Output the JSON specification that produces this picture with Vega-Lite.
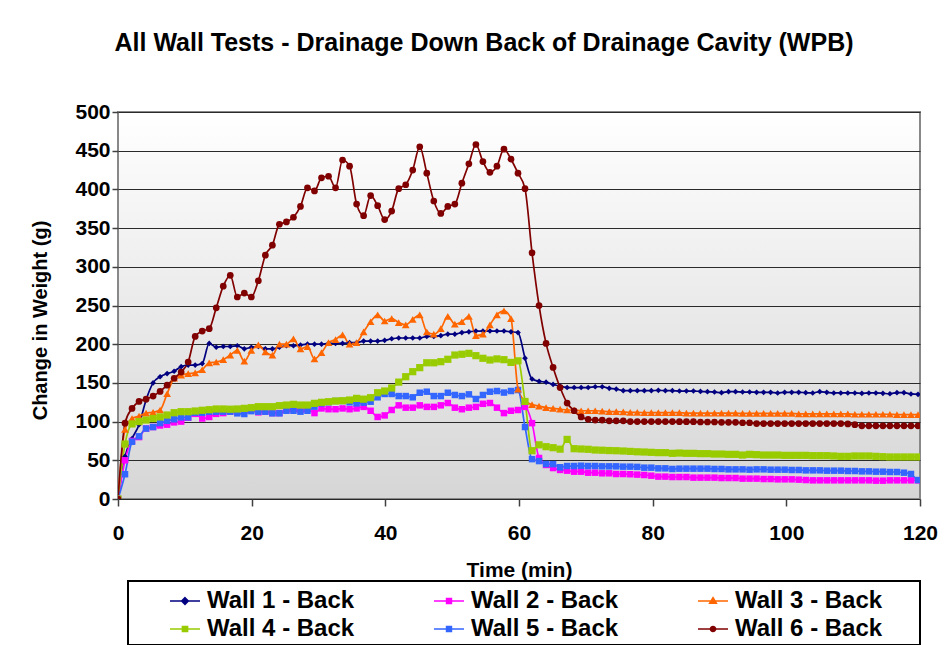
{
  "$schema": "https://vega.github.io/schema/vega-lite/v6.json",
  "width": 802,
  "height": 387,
  "autosize": {"type": "none"},
  "padding": {"left": 118, "top": 112, "right": 24, "bottom": 146},
  "background": "white",
  "title": {"text": "All Wall Tests - Drainage Down Back of Drainage Cavity (WPB)", "fontSize": 25, "fontWeight": "bold", "font": "Liberation Sans", "color": "black", "anchor": "middle", "dx": -35, "offset": 45},
  "data": {"values": [
    {"t":0,"Wall 1 - Back":0,"Wall 2 - Back":0,"Wall 3 - Back":0,"Wall 4 - Back":0,"Wall 5 - Back":0,"Wall 6 - Back":0},
    {"t":1.05,"Wall 1 - Back":55,"Wall 2 - Back":50,"Wall 3 - Back":90,"Wall 4 - Back":71,"Wall 5 - Back":32,"Wall 6 - Back":98},
    {"t":2.1,"Wall 1 - Back":78,"Wall 2 - Back":75,"Wall 3 - Back":104,"Wall 4 - Back":97,"Wall 5 - Back":74,"Wall 6 - Back":117},
    {"t":3.15,"Wall 1 - Back":96,"Wall 2 - Back":80,"Wall 3 - Back":107,"Wall 4 - Back":100,"Wall 5 - Back":81,"Wall 6 - Back":126},
    {"t":4.2,"Wall 1 - Back":128,"Wall 2 - Back":91,"Wall 3 - Back":111,"Wall 4 - Back":102,"Wall 5 - Back":91,"Wall 6 - Back":129},
    {"t":5.25,"Wall 1 - Back":150,"Wall 2 - Back":93,"Wall 3 - Back":112,"Wall 4 - Back":104,"Wall 5 - Back":93,"Wall 6 - Back":133},
    {"t":6.3,"Wall 1 - Back":158,"Wall 2 - Back":95,"Wall 3 - Back":115,"Wall 4 - Back":106,"Wall 5 - Back":98,"Wall 6 - Back":139},
    {"t":7.35,"Wall 1 - Back":162,"Wall 2 - Back":96,"Wall 3 - Back":136,"Wall 4 - Back":108.5,"Wall 5 - Back":101,"Wall 6 - Back":147},
    {"t":8.4,"Wall 1 - Back":165,"Wall 2 - Back":99,"Wall 3 - Back":156,"Wall 4 - Back":111.5,"Wall 5 - Back":103,"Wall 6 - Back":156},
    {"t":9.45,"Wall 1 - Back":171,"Wall 2 - Back":100,"Wall 3 - Back":160,"Wall 4 - Back":112.8,"Wall 5 - Back":105.5,"Wall 6 - Back":164},
    {"t":10.5,"Wall 1 - Back":173,"Wall 2 - Back":105,"Wall 3 - Back":162,"Wall 4 - Back":112.8,"Wall 5 - Back":105.5,"Wall 6 - Back":177},
    {"t":11.55,"Wall 1 - Back":173,"Wall 2 - Back":110,"Wall 3 - Back":163,"Wall 4 - Back":113.7,"Wall 5 - Back":111.5,"Wall 6 - Back":210},
    {"t":12.6,"Wall 1 - Back":175,"Wall 2 - Back":104,"Wall 3 - Back":167,"Wall 4 - Back":114.6,"Wall 5 - Back":111.5,"Wall 6 - Back":217},
    {"t":13.65,"Wall 1 - Back":201,"Wall 2 - Back":106,"Wall 3 - Back":176,"Wall 4 - Back":115.4,"Wall 5 - Back":112.8,"Wall 6 - Back":220},
    {"t":14.7,"Wall 1 - Back":196,"Wall 2 - Back":110,"Wall 3 - Back":177,"Wall 4 - Back":116.3,"Wall 5 - Back":112.8,"Wall 6 - Back":247},
    {"t":15.75,"Wall 1 - Back":197,"Wall 2 - Back":111,"Wall 3 - Back":180,"Wall 4 - Back":116.3,"Wall 5 - Back":112.8,"Wall 6 - Back":275},
    {"t":16.8,"Wall 1 - Back":197,"Wall 2 - Back":113,"Wall 3 - Back":186,"Wall 4 - Back":116,"Wall 5 - Back":112.8,"Wall 6 - Back":289},
    {"t":17.85,"Wall 1 - Back":198,"Wall 2 - Back":116,"Wall 3 - Back":192,"Wall 4 - Back":116.3,"Wall 5 - Back":110.7,"Wall 6 - Back":261},
    {"t":18.9,"Wall 1 - Back":194,"Wall 2 - Back":115,"Wall 3 - Back":178,"Wall 4 - Back":117.1,"Wall 5 - Back":109.8,"Wall 6 - Back":266},
    {"t":19.95,"Wall 1 - Back":196,"Wall 2 - Back":116,"Wall 3 - Back":192,"Wall 4 - Back":118,"Wall 5 - Back":113.5,"Wall 6 - Back":261},
    {"t":21,"Wall 1 - Back":197,"Wall 2 - Back":112,"Wall 3 - Back":199,"Wall 4 - Back":119.3,"Wall 5 - Back":112.8,"Wall 6 - Back":282},
    {"t":22.05,"Wall 1 - Back":194,"Wall 2 - Back":113,"Wall 3 - Back":190,"Wall 4 - Back":119.3,"Wall 5 - Back":112.8,"Wall 6 - Back":315},
    {"t":23.1,"Wall 1 - Back":194,"Wall 2 - Back":111,"Wall 3 - Back":186,"Wall 4 - Back":119.3,"Wall 5 - Back":110.7,"Wall 6 - Back":328},
    {"t":24.15,"Wall 1 - Back":196,"Wall 2 - Back":111,"Wall 3 - Back":200,"Wall 4 - Back":120.6,"Wall 5 - Back":110.7,"Wall 6 - Back":355},
    {"t":25.2,"Wall 1 - Back":198,"Wall 2 - Back":115,"Wall 3 - Back":200,"Wall 4 - Back":121.4,"Wall 5 - Back":114,"Wall 6 - Back":358},
    {"t":26.25,"Wall 1 - Back":198,"Wall 2 - Back":116,"Wall 3 - Back":207,"Wall 4 - Back":122.3,"Wall 5 - Back":114,"Wall 6 - Back":364},
    {"t":27.3,"Wall 1 - Back":199,"Wall 2 - Back":115,"Wall 3 - Back":194,"Wall 4 - Back":121.4,"Wall 5 - Back":112.8,"Wall 6 - Back":378},
    {"t":28.35,"Wall 1 - Back":200,"Wall 2 - Back":116,"Wall 3 - Back":197,"Wall 4 - Back":121.4,"Wall 5 - Back":114,"Wall 6 - Back":402},
    {"t":29.4,"Wall 1 - Back":200,"Wall 2 - Back":111,"Wall 3 - Back":181,"Wall 4 - Back":123.6,"Wall 5 - Back":119.3,"Wall 6 - Back":398},
    {"t":30.45,"Wall 1 - Back":200,"Wall 2 - Back":117,"Wall 3 - Back":189,"Wall 4 - Back":124.9,"Wall 5 - Back":123.6,"Wall 6 - Back":415},
    {"t":31.5,"Wall 1 - Back":201,"Wall 2 - Back":116,"Wall 3 - Back":202,"Wall 4 - Back":125.7,"Wall 5 - Back":124.9,"Wall 6 - Back":417},
    {"t":32.55,"Wall 1 - Back":201,"Wall 2 - Back":116,"Wall 3 - Back":206,"Wall 4 - Back":126.6,"Wall 5 - Back":126.6,"Wall 6 - Back":402},
    {"t":33.6,"Wall 1 - Back":201,"Wall 2 - Back":117,"Wall 3 - Back":212,"Wall 4 - Back":127,"Wall 5 - Back":126.6,"Wall 6 - Back":438},
    {"t":34.65,"Wall 1 - Back":202,"Wall 2 - Back":116,"Wall 3 - Back":200,"Wall 4 - Back":127.9,"Wall 5 - Back":124.9,"Wall 6 - Back":430},
    {"t":35.7,"Wall 1 - Back":202,"Wall 2 - Back":117,"Wall 3 - Back":202,"Wall 4 - Back":130,"Wall 5 - Back":123.6,"Wall 6 - Back":381},
    {"t":36.75,"Wall 1 - Back":204,"Wall 2 - Back":119,"Wall 3 - Back":216,"Wall 4 - Back":129,"Wall 5 - Back":124.5,"Wall 6 - Back":366},
    {"t":37.8,"Wall 1 - Back":204,"Wall 2 - Back":114,"Wall 3 - Back":229,"Wall 4 - Back":130.9,"Wall 5 - Back":125.7,"Wall 6 - Back":392},
    {"t":38.85,"Wall 1 - Back":204,"Wall 2 - Back":106,"Wall 3 - Back":238,"Wall 4 - Back":137.3,"Wall 5 - Back":131.4,"Wall 6 - Back":379},
    {"t":39.9,"Wall 1 - Back":205,"Wall 2 - Back":108,"Wall 3 - Back":230,"Wall 4 - Back":139.5,"Wall 5 - Back":135.7,"Wall 6 - Back":361},
    {"t":40.95,"Wall 1 - Back":207,"Wall 2 - Back":115,"Wall 3 - Back":233,"Wall 4 - Back":143.4,"Wall 5 - Back":135.7,"Wall 6 - Back":372},
    {"t":42,"Wall 1 - Back":208,"Wall 2 - Back":121,"Wall 3 - Back":228,"Wall 4 - Back":151,"Wall 5 - Back":133,"Wall 6 - Back":401},
    {"t":43.05,"Wall 1 - Back":208,"Wall 2 - Back":118,"Wall 3 - Back":225,"Wall 4 - Back":158,"Wall 5 - Back":133,"Wall 6 - Back":406},
    {"t":44.1,"Wall 1 - Back":208,"Wall 2 - Back":118,"Wall 3 - Back":232,"Wall 4 - Back":164.5,"Wall 5 - Back":131.4,"Wall 6 - Back":425},
    {"t":45.15,"Wall 1 - Back":208,"Wall 2 - Back":121,"Wall 3 - Back":238,"Wall 4 - Back":169.7,"Wall 5 - Back":137.3,"Wall 6 - Back":455},
    {"t":46.2,"Wall 1 - Back":210,"Wall 2 - Back":119,"Wall 3 - Back":216,"Wall 4 - Back":176,"Wall 5 - Back":138.6,"Wall 6 - Back":421},
    {"t":47.25,"Wall 1 - Back":210,"Wall 2 - Back":119,"Wall 3 - Back":213,"Wall 4 - Back":176,"Wall 5 - Back":133,"Wall 6 - Back":385},
    {"t":48.3,"Wall 1 - Back":211,"Wall 2 - Back":121,"Wall 3 - Back":220,"Wall 4 - Back":177.4,"Wall 5 - Back":133,"Wall 6 - Back":369},
    {"t":49.35,"Wall 1 - Back":213,"Wall 2 - Back":124,"Wall 3 - Back":236,"Wall 4 - Back":180.5,"Wall 5 - Back":137.3,"Wall 6 - Back":378},
    {"t":50.4,"Wall 1 - Back":213,"Wall 2 - Back":118,"Wall 3 - Back":226,"Wall 4 - Back":186,"Wall 5 - Back":134.4,"Wall 6 - Back":381},
    {"t":51.45,"Wall 1 - Back":215,"Wall 2 - Back":116,"Wall 3 - Back":229,"Wall 4 - Back":187,"Wall 5 - Back":133,"Wall 6 - Back":408},
    {"t":52.5,"Wall 1 - Back":216,"Wall 2 - Back":118,"Wall 3 - Back":236,"Wall 4 - Back":188.2,"Wall 5 - Back":135.2,"Wall 6 - Back":433},
    {"t":53.55,"Wall 1 - Back":217,"Wall 2 - Back":119,"Wall 3 - Back":211,"Wall 4 - Back":185.2,"Wall 5 - Back":129.2,"Wall 6 - Back":458},
    {"t":54.6,"Wall 1 - Back":217,"Wall 2 - Back":123,"Wall 3 - Back":213,"Wall 4 - Back":181.8,"Wall 5 - Back":134.4,"Wall 6 - Back":436},
    {"t":55.65,"Wall 1 - Back":217,"Wall 2 - Back":124,"Wall 3 - Back":225,"Wall 4 - Back":179.6,"Wall 5 - Back":138.6,"Wall 6 - Back":422},
    {"t":56.7,"Wall 1 - Back":217,"Wall 2 - Back":118,"Wall 3 - Back":238,"Wall 4 - Back":181,"Wall 5 - Back":139.5,"Wall 6 - Back":430},
    {"t":57.75,"Wall 1 - Back":217,"Wall 2 - Back":111,"Wall 3 - Back":243,"Wall 4 - Back":180,"Wall 5 - Back":137.5,"Wall 6 - Back":452},
    {"t":58.8,"Wall 1 - Back":216,"Wall 2 - Back":114,"Wall 3 - Back":233,"Wall 4 - Back":176.5,"Wall 5 - Back":139.5,"Wall 6 - Back":439},
    {"t":59.85,"Wall 1 - Back":215,"Wall 2 - Back":115,"Wall 3 - Back":142,"Wall 4 - Back":178.5,"Wall 5 - Back":140.8,"Wall 6 - Back":421},
    {"t":60.9,"Wall 1 - Back":182,"Wall 2 - Back":119,"Wall 3 - Back":126,"Wall 4 - Back":126,"Wall 5 - Back":93,"Wall 6 - Back":401},
    {"t":61.95,"Wall 1 - Back":155,"Wall 2 - Back":98,"Wall 3 - Back":122,"Wall 4 - Back":62.4,"Wall 5 - Back":51.5,"Wall 6 - Back":318},
    {"t":63,"Wall 1 - Back":152,"Wall 2 - Back":53,"Wall 3 - Back":120,"Wall 4 - Back":70,"Wall 5 - Back":49,"Wall 6 - Back":250},
    {"t":64.05,"Wall 1 - Back":151,"Wall 2 - Back":44,"Wall 3 - Back":118,"Wall 4 - Back":67.6,"Wall 5 - Back":45.2,"Wall 6 - Back":201},
    {"t":65.1,"Wall 1 - Back":148,"Wall 2 - Back":40,"Wall 3 - Back":117,"Wall 4 - Back":66.3,"Wall 5 - Back":45,"Wall 6 - Back":170},
    {"t":66.15,"Wall 1 - Back":146,"Wall 2 - Back":37.5,"Wall 3 - Back":116,"Wall 4 - Back":64.4,"Wall 5 - Back":41,"Wall 6 - Back":144},
    {"t":67.2,"Wall 1 - Back":144,"Wall 2 - Back":36.6,"Wall 3 - Back":115,"Wall 4 - Back":77,"Wall 5 - Back":42.6,"Wall 6 - Back":124},
    {"t":68.25,"Wall 1 - Back":144,"Wall 2 - Back":35.3,"Wall 3 - Back":115,"Wall 4 - Back":65,"Wall 5 - Back":42.6,"Wall 6 - Back":114},
    {"t":69.3,"Wall 1 - Back":144,"Wall 2 - Back":35.3,"Wall 3 - Back":114,"Wall 4 - Back":64.6,"Wall 5 - Back":43,"Wall 6 - Back":106},
    {"t":70.35,"Wall 1 - Back":144,"Wall 2 - Back":34,"Wall 3 - Back":114,"Wall 4 - Back":64.2,"Wall 5 - Back":42.6,"Wall 6 - Back":103},
    {"t":71.4,"Wall 1 - Back":145,"Wall 2 - Back":34,"Wall 3 - Back":114,"Wall 4 - Back":63.3,"Wall 5 - Back":42.6,"Wall 6 - Back":102},
    {"t":72.45,"Wall 1 - Back":145,"Wall 2 - Back":33.2,"Wall 3 - Back":113.5,"Wall 4 - Back":63,"Wall 5 - Back":42.2,"Wall 6 - Back":102},
    {"t":73.5,"Wall 1 - Back":143,"Wall 2 - Back":33.2,"Wall 3 - Back":113,"Wall 4 - Back":62.6,"Wall 5 - Back":42.2,"Wall 6 - Back":101},
    {"t":74.55,"Wall 1 - Back":142,"Wall 2 - Back":32.3,"Wall 3 - Back":113,"Wall 4 - Back":62.4,"Wall 5 - Back":42.2,"Wall 6 - Back":101},
    {"t":75.6,"Wall 1 - Back":140,"Wall 2 - Back":32.3,"Wall 3 - Back":112.5,"Wall 4 - Back":62,"Wall 5 - Back":41.8,"Wall 6 - Back":101},
    {"t":76.65,"Wall 1 - Back":140,"Wall 2 - Back":32,"Wall 3 - Back":112,"Wall 4 - Back":61.5,"Wall 5 - Back":41.8,"Wall 6 - Back":100},
    {"t":77.7,"Wall 1 - Back":140,"Wall 2 - Back":31.5,"Wall 3 - Back":112,"Wall 4 - Back":61,"Wall 5 - Back":41.5,"Wall 6 - Back":100},
    {"t":78.75,"Wall 1 - Back":140,"Wall 2 - Back":31,"Wall 3 - Back":111.5,"Wall 4 - Back":60.7,"Wall 5 - Back":40.5,"Wall 6 - Back":100},
    {"t":79.8,"Wall 1 - Back":140,"Wall 2 - Back":30.1,"Wall 3 - Back":111.5,"Wall 4 - Back":60.3,"Wall 5 - Back":40.5,"Wall 6 - Back":100},
    {"t":80.85,"Wall 1 - Back":140.4,"Wall 2 - Back":28.9,"Wall 3 - Back":111.5,"Wall 4 - Back":59.9,"Wall 5 - Back":39.6,"Wall 6 - Back":100},
    {"t":81.9,"Wall 1 - Back":140,"Wall 2 - Back":28.9,"Wall 3 - Back":111.5,"Wall 4 - Back":59.9,"Wall 5 - Back":39.6,"Wall 6 - Back":100},
    {"t":82.95,"Wall 1 - Back":140,"Wall 2 - Back":28.4,"Wall 3 - Back":111.5,"Wall 4 - Back":59,"Wall 5 - Back":38.8,"Wall 6 - Back":100},
    {"t":84,"Wall 1 - Back":139.5,"Wall 2 - Back":28.4,"Wall 3 - Back":111.5,"Wall 4 - Back":59.4,"Wall 5 - Back":39.2,"Wall 6 - Back":99.9},
    {"t":85.05,"Wall 1 - Back":139.5,"Wall 2 - Back":28.4,"Wall 3 - Back":111,"Wall 4 - Back":59,"Wall 5 - Back":39.2,"Wall 6 - Back":99.9},
    {"t":86.1,"Wall 1 - Back":139.5,"Wall 2 - Back":27.6,"Wall 3 - Back":111,"Wall 4 - Back":59,"Wall 5 - Back":39.2,"Wall 6 - Back":99.9},
    {"t":87.15,"Wall 1 - Back":139,"Wall 2 - Back":27.6,"Wall 3 - Back":111,"Wall 4 - Back":58.6,"Wall 5 - Back":39.2,"Wall 6 - Back":99.5},
    {"t":88.2,"Wall 1 - Back":138.7,"Wall 2 - Back":27.6,"Wall 3 - Back":111,"Wall 4 - Back":58.6,"Wall 5 - Back":39.2,"Wall 6 - Back":99.5},
    {"t":89.25,"Wall 1 - Back":138.2,"Wall 2 - Back":27.6,"Wall 3 - Back":111,"Wall 4 - Back":58.1,"Wall 5 - Back":38.8,"Wall 6 - Back":99.5},
    {"t":90.3,"Wall 1 - Back":137.4,"Wall 2 - Back":27.1,"Wall 3 - Back":111,"Wall 4 - Back":58.1,"Wall 5 - Back":38.8,"Wall 6 - Back":99},
    {"t":91.35,"Wall 1 - Back":138.7,"Wall 2 - Back":27.1,"Wall 3 - Back":111,"Wall 4 - Back":57.7,"Wall 5 - Back":38.3,"Wall 6 - Back":99},
    {"t":92.4,"Wall 1 - Back":138.7,"Wall 2 - Back":27.1,"Wall 3 - Back":111,"Wall 4 - Back":57.7,"Wall 5 - Back":38.3,"Wall 6 - Back":99},
    {"t":93.45,"Wall 1 - Back":138.2,"Wall 2 - Back":26.3,"Wall 3 - Back":110.5,"Wall 4 - Back":56.8,"Wall 5 - Back":38.3,"Wall 6 - Back":98.5},
    {"t":94.5,"Wall 1 - Back":138.2,"Wall 2 - Back":26.3,"Wall 3 - Back":110.5,"Wall 4 - Back":57.7,"Wall 5 - Back":37.9,"Wall 6 - Back":98.5},
    {"t":95.55,"Wall 1 - Back":137.8,"Wall 2 - Back":26.3,"Wall 3 - Back":110.5,"Wall 4 - Back":57.3,"Wall 5 - Back":38.3,"Wall 6 - Back":97.5},
    {"t":96.6,"Wall 1 - Back":137.8,"Wall 2 - Back":25.8,"Wall 3 - Back":110.5,"Wall 4 - Back":56.8,"Wall 5 - Back":38.3,"Wall 6 - Back":97.5},
    {"t":97.65,"Wall 1 - Back":137.8,"Wall 2 - Back":25.8,"Wall 3 - Back":110.5,"Wall 4 - Back":56.8,"Wall 5 - Back":37.9,"Wall 6 - Back":97.5},
    {"t":98.7,"Wall 1 - Back":137,"Wall 2 - Back":25.4,"Wall 3 - Back":110.5,"Wall 4 - Back":56.8,"Wall 5 - Back":37.9,"Wall 6 - Back":97.5},
    {"t":99.75,"Wall 1 - Back":137.8,"Wall 2 - Back":25.4,"Wall 3 - Back":110.5,"Wall 4 - Back":56.4,"Wall 5 - Back":37.9,"Wall 6 - Back":97.5},
    {"t":100.8,"Wall 1 - Back":137.8,"Wall 2 - Back":25.4,"Wall 3 - Back":110.5,"Wall 4 - Back":56.4,"Wall 5 - Back":37.5,"Wall 6 - Back":97.5},
    {"t":101.85,"Wall 1 - Back":137.8,"Wall 2 - Back":25,"Wall 3 - Back":110,"Wall 4 - Back":56.4,"Wall 5 - Back":37.5,"Wall 6 - Back":97.5},
    {"t":102.9,"Wall 1 - Back":137.4,"Wall 2 - Back":24.5,"Wall 3 - Back":110,"Wall 4 - Back":56.4,"Wall 5 - Back":37,"Wall 6 - Back":97.5},
    {"t":103.95,"Wall 1 - Back":137,"Wall 2 - Back":24.1,"Wall 3 - Back":110,"Wall 4 - Back":56,"Wall 5 - Back":37,"Wall 6 - Back":97.5},
    {"t":105,"Wall 1 - Back":138.7,"Wall 2 - Back":24.1,"Wall 3 - Back":110,"Wall 4 - Back":56,"Wall 5 - Back":37,"Wall 6 - Back":97.5},
    {"t":106.05,"Wall 1 - Back":137.8,"Wall 2 - Back":24.1,"Wall 3 - Back":110,"Wall 4 - Back":56,"Wall 5 - Back":36.6,"Wall 6 - Back":97.5},
    {"t":107.1,"Wall 1 - Back":137,"Wall 2 - Back":24.1,"Wall 3 - Back":110,"Wall 4 - Back":55.6,"Wall 5 - Back":36.6,"Wall 6 - Back":97.5},
    {"t":108.15,"Wall 1 - Back":137,"Wall 2 - Back":24.1,"Wall 3 - Back":110,"Wall 4 - Back":55.1,"Wall 5 - Back":36.6,"Wall 6 - Back":97.5},
    {"t":109.2,"Wall 1 - Back":137,"Wall 2 - Back":24.1,"Wall 3 - Back":110,"Wall 4 - Back":55.1,"Wall 5 - Back":36.2,"Wall 6 - Back":97},
    {"t":110.25,"Wall 1 - Back":137,"Wall 2 - Back":24.1,"Wall 3 - Back":109.5,"Wall 4 - Back":55.6,"Wall 5 - Back":36.2,"Wall 6 - Back":96},
    {"t":111.3,"Wall 1 - Back":136.5,"Wall 2 - Back":24.1,"Wall 3 - Back":109.5,"Wall 4 - Back":55.6,"Wall 5 - Back":35.7,"Wall 6 - Back":94.5},
    {"t":112.35,"Wall 1 - Back":137,"Wall 2 - Back":24.1,"Wall 3 - Back":109.5,"Wall 4 - Back":55.6,"Wall 5 - Back":35.7,"Wall 6 - Back":94.5},
    {"t":113.4,"Wall 1 - Back":137,"Wall 2 - Back":23.7,"Wall 3 - Back":109.5,"Wall 4 - Back":55.1,"Wall 5 - Back":35.3,"Wall 6 - Back":94.5},
    {"t":114.45,"Wall 1 - Back":136.5,"Wall 2 - Back":23.7,"Wall 3 - Back":109.5,"Wall 4 - Back":54.7,"Wall 5 - Back":35.3,"Wall 6 - Back":94.5},
    {"t":115.5,"Wall 1 - Back":136,"Wall 2 - Back":24.1,"Wall 3 - Back":109.5,"Wall 4 - Back":54.3,"Wall 5 - Back":34.9,"Wall 6 - Back":94.5},
    {"t":116.55,"Wall 1 - Back":137.4,"Wall 2 - Back":24.1,"Wall 3 - Back":109,"Wall 4 - Back":54.3,"Wall 5 - Back":34.9,"Wall 6 - Back":94.5},
    {"t":117.6,"Wall 1 - Back":137.4,"Wall 2 - Back":24.1,"Wall 3 - Back":109,"Wall 4 - Back":54.3,"Wall 5 - Back":34,"Wall 6 - Back":94.5},
    {"t":118.65,"Wall 1 - Back":135.7,"Wall 2 - Back":24.1,"Wall 3 - Back":109,"Wall 4 - Back":54.3,"Wall 5 - Back":32.3,"Wall 6 - Back":94.5},
    {"t":119.7,"Wall 1 - Back":135.2,"Wall 2 - Back":24.1,"Wall 3 - Back":109,"Wall 4 - Back":54.3,"Wall 5 - Back":24.5,"Wall 6 - Back":94.5},
    {"t":120.75,"Wall 1 - Back":138,"Wall 2 - Back":24.1,"Wall 3 - Back":109,"Wall 4 - Back":54.7,"Wall 5 - Back":24.5,"Wall 6 - Back":94.5}
  ]},
  "transform": [
    {"fold": ["Wall 1 - Back", "Wall 2 - Back", "Wall 3 - Back", "Wall 4 - Back", "Wall 5 - Back", "Wall 6 - Back"], "as": ["series", "g"]}
  ],
  "encoding": {
    "x": {
      "field": "t", "type": "quantitative",
      "scale": {"domain": [0, 120], "nice": false, "zero": false},
      "axis": {
        "title": "Time (min)", "values": [0, 20, 40, 60, 80, 100, 120],
        "grid": false, "domain": false, "ticks": true, "tickSize": 7, "tickColor": "#404040", "tickWidth": 1.5,
        "labelFontSize": 21, "labelFontWeight": "bold", "labelColor": "black", "labelPadding": 16, "labelFlush": false,
        "titleFontSize": 21, "titleFontWeight": "bold", "titleColor": "black", "titleY": 60, "titleBaseline": "top"
      }
    },
    "y": {
      "field": "g", "type": "quantitative",
      "scale": {"domain": [0, 500], "nice": false},
      "axis": {
        "title": "Change in Weight (g)", "values": [0, 50, 100, 150, 200, 250, 300, 350, 400, 450, 500],
        "grid": true, "gridColor": "#2a2a2a", "gridWidth": 1, "domain": false,
        "tickSize": 6, "tickColor": "#404040", "tickWidth": 1.5,
        "labelFontSize": 21, "labelFontWeight": "bold", "labelColor": "black", "labelPadding": 2,
        "titleFontSize": 20, "titleFontWeight": "bold", "titleColor": "black",
        "titleX": -78, "titleY": 208, "titleBaseline": "middle", "titleAngle": -90, "titleAlign": "center"
      }
    }
  },
  "layer": [
    {
      "mark": {"type": "line", "strokeWidth": 1.7, "interpolate": "monotone", "clip": true},
      "encoding": {
        "color": {
          "field": "series", "type": "nominal",
          "scale": {
            "domain": ["Wall 1 - Back", "Wall 2 - Back", "Wall 3 - Back", "Wall 4 - Back", "Wall 5 - Back", "Wall 6 - Back"],
            "range": ["#000080", "#FF00FF", "#FF6600", "#99CC00", "#3366FF", "#800000"]
          },
          "legend": {
            "orient": "none", "legendX": 10, "legendY": 469, "direction": "horizontal", "columns": 3,
            "title": " ", "titleOrient": "right", "titlePadding": 34, "titleFontSize": 24,
            "labelFontSize": 24, "labelFontWeight": "bold", "labelColor": "black",
            "labelOffset": 6, "labelLimit": 400, "symbolSize": 900, "symbolOffset": 37, "symbolStrokeWidth": 1.6,
            "columnPadding": 41, "rowPadding": -6, "padding": 4,
            "strokeColor": "black", "fillColor": "white",
            "encode": {
              "legend": {"update": {"strokeWidth": {"value": 2}}},
              "symbols": {"update": {
                "shape": {"signal": "datum.value === 'Wall 1 - Back' ? 'M-1,0H1M0,-0.22L0.22,0L0,0.22L-0.22,0Z' : datum.value === 'Wall 2 - Back' || datum.value === 'Wall 5 - Back' ? 'M-1,0H1M-0.16,-0.16H0.16V0.16H-0.16Z' : datum.value === 'Wall 3 - Back' ? 'M-1,0H1M0,-0.22L0.22,0.15H-0.22Z' : datum.value === 'Wall 4 - Back' ? 'M-1,0H1M-0.17,-0.17H0.17V0.17H-0.17Z' : 'M-1,0H1M0.17,0A0.17,0.17,0,1,1,-0.17,0A0.17,0.17,0,1,1,0.17,0Z'"},
                "fill": {"signal": "scale('color', datum.value)"},
                "stroke": {"signal": "scale('color', datum.value)"},
                "strokeWidth": {"value": 1.6},
                "size": {"value": 900},
                "opacity": {"value": 1}
              }}
            }
          }
        }
      }
    },
    {
      "transform": [{"filter": {"field": "series", "equal": "Wall 1 - Back"}}],
      "mark": {"type": "point", "shape": "diamond", "size": 32, "filled": true, "opacity": 1, "clip": true, "strokeWidth": 0},
      "encoding": {"color": {"field": "series", "type": "nominal", "legend": null}}
    },
    {
      "transform": [{"filter": {"field": "series", "oneOf": ["Wall 2 - Back", "Wall 5 - Back"]}}],
      "mark": {"type": "point", "shape": "square", "size": 42, "filled": true, "opacity": 1, "clip": true, "strokeWidth": 0},
      "encoding": {"color": {"field": "series", "type": "nominal", "legend": null}}
    },
    {
      "transform": [{"filter": {"field": "series", "equal": "Wall 3 - Back"}}],
      "mark": {"type": "point", "shape": "triangle-up", "size": 60, "filled": true, "opacity": 1, "clip": true, "strokeWidth": 0},
      "encoding": {"color": {"field": "series", "type": "nominal", "legend": null}}
    },
    {
      "transform": [{"filter": {"field": "series", "equal": "Wall 4 - Back"}}],
      "mark": {"type": "point", "shape": "square", "size": 52, "filled": true, "opacity": 1, "clip": true, "strokeWidth": 0},
      "encoding": {"color": {"field": "series", "type": "nominal", "legend": null}}
    },
    {
      "transform": [{"filter": {"field": "series", "equal": "Wall 6 - Back"}}],
      "mark": {"type": "point", "shape": "circle", "size": 45, "filled": true, "opacity": 1, "clip": true, "strokeWidth": 0},
      "encoding": {"color": {"field": "series", "type": "nominal", "legend": null}}
    }
  ],
  "config": {
    "font": "Liberation Sans",
    "view": {
      "stroke": "#888888", "strokeWidth": 2,
      "fill": {"gradient": "linear", "x1": 0, "y1": 0, "x2": 0, "y2": 1, "stops": [{"offset": 0, "color": "#ffffff"}, {"offset": 1, "color": "#d6d6d6"}]}
    }
  }
}
